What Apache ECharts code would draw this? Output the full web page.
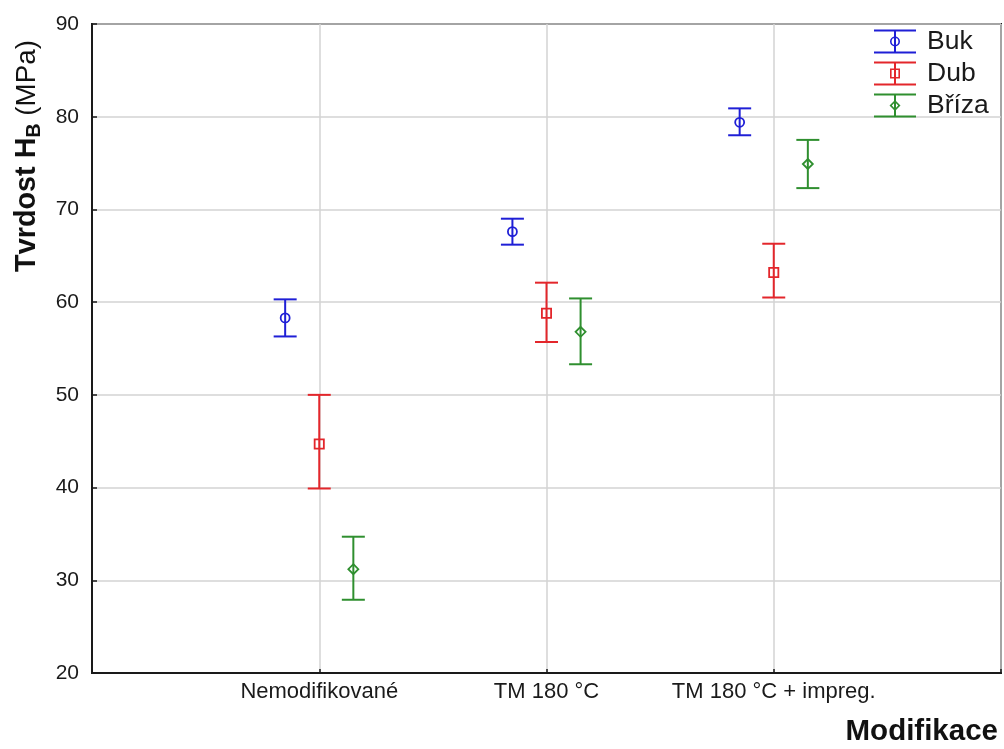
<!DOCTYPE html>
<html>
<head>
<meta charset="utf-8">
<script src="https://cdn.jsdelivr.net/npm/echarts@6/dist/echarts.min.js"></script>
<style>
  html, body { margin: 0; padding: 0; background: #fff; }
  #chart { width: 1004px; height: 749px; }
</style>
</head>
<body>
<div id="chart"></div>
<script>
// Hardness by modification: mean with lower / upper interval bounds
const categories = ['Nemodifikované', 'TM 180 °C', 'TM 180 °C + impreg.'];
const yTicks = [20, 30, 40, 50, 60, 70, 80, 90];

const bukMean  = [58.3, 67.6, 79.4];
const bukLow   = [56.3, 66.2, 78.0];
const bukHigh  = [60.3, 69.0, 80.9];

const dubMean  = [44.7, 58.8, 63.2];
const dubLow   = [39.9, 55.7, 60.5];
const dubHigh  = [50.0, 62.1, 66.3];

const brizaMean = [31.2, 56.8, 74.9];
const brizaLow  = [27.9, 53.3, 72.3];
const brizaHigh = [34.7, 60.4, 77.5];

const FONT = "'Liberation Sans', Arial, sans-serif";

const groups = [
  { name: 'Buk',   color: '#1f1fd6', marker: 'circle',  offset: -0.15, mean: bukMean,   low: bukLow,   high: bukHigh },
  { name: 'Dub',   color: '#e3262b', marker: 'square',  offset: 0,     mean: dubMean,   low: dubLow,   high: dubHigh },
  { name: 'Bříza', color: '#2f8f2f', marker: 'diamond', offset: 0.15,  mean: brizaMean, low: brizaLow, high: brizaHigh }
];

// legend icons: error bar with hollow marker (ring drawn as opposite-winding subpaths)
const barPath = 'M0 0 H42 V2 H0 Z M0 22 H42 V24 H0 Z M20 2 H22 V22 H20 Z ';
const markerPaths = {
  circle:  'M16 12 A5 5 0 1 1 26 12 A5 5 0 1 1 16 12 Z M17.6 12 A3.4 3.4 0 1 0 24.4 12 A3.4 3.4 0 1 0 17.6 12 Z',
  square:  'M16 7 H26 V17 H16 Z M17.6 8.6 V15.4 H24.4 V8.6 Z',
  diamond: 'M21 6.5 L26.5 12 L21 17.5 L15.5 12 Z M21 8.8 L17.8 12 L21 15.2 L24.2 12 Z'
};

function makeRenderItem(g) {
  return function (params, api) {
    const x = api.value(0) + g.offset;
    const pMean = api.coord([x, api.value(1)]);
    const pLow = api.coord([x, api.value(2)]);
    const pHigh = api.coord([x, api.value(3)]);
    const half = 11.5;
    const lineStyle = { stroke: g.color, lineWidth: 2, fill: null };
    const children = [
      { type: 'line', shape: { x1: pHigh[0], y1: pHigh[1], x2: pLow[0], y2: pLow[1] }, style: lineStyle },
      { type: 'line', shape: { x1: pHigh[0] - half, y1: pHigh[1], x2: pHigh[0] + half, y2: pHigh[1] }, style: lineStyle },
      { type: 'line', shape: { x1: pLow[0] - half, y1: pLow[1], x2: pLow[0] + half, y2: pLow[1] }, style: lineStyle }
    ];
    const mx = pMean[0], my = pMean[1];
    const mStyle = { stroke: g.color, lineWidth: 1.8, fill: null };
    if (g.marker === 'circle') {
      children.push({ type: 'circle', shape: { cx: mx, cy: my, r: 4.5 }, style: mStyle });
    } else if (g.marker === 'square') {
      children.push({ type: 'rect', shape: { x: mx - 4.6, y: my - 4.6, width: 9.2, height: 9.2 }, style: mStyle });
    } else {
      children.push({ type: 'polygon', shape: { points: [[mx, my - 5], [mx + 5, my], [mx, my + 5], [mx - 5, my]] }, style: mStyle });
    }
    return { type: 'group', children: children };
  };
}

const series = groups.map(g => ({
  name: g.name,
  type: 'custom',
  color: g.color,
  renderItem: makeRenderItem(g),
  encode: { x: 0, y: [1, 2, 3] },
  data: g.mean.map((m, i) => [i + 1, m, g.low[i], g.high[i]]),
  z: 5
}));

const chart = echarts.init(document.getElementById('chart'), null, { renderer: 'canvas' });

chart.setOption({
  animation: false,
  backgroundColor: '#fff',
  textStyle: { fontFamily: FONT },
  grid: {
    left: 92, right: 3, top: 24, bottom: 76,
    show: true, borderColor: '#1a1a1a', borderWidth: 2, backgroundColor: 'transparent'
  },
  legend: {
    orient: 'vertical',
    left: 874, top: 28, padding: 0,
    itemWidth: 42, itemHeight: 24, itemGap: 5,
    textStyle: { fontSize: 26.5, color: '#1a1a1a', fontFamily: FONT, padding: [0, 0, 0, 6] },
    data: groups.map(g => ({
      name: g.name,
      icon: 'path://' + barPath + markerPaths[g.marker],
      itemStyle: { color: g.color }
    }))
  },
  xAxis: {
    type: 'value',
    min: 0, max: 4, interval: 1,
    axisLine: { show: true, lineStyle: { color: '#1a1a1a', width: 2 } },
    axisTick: { show: true, inside: true, length: 4, lineStyle: { color: '#1a1a1a', width: 1.5 } },
    splitLine: { show: true, lineStyle: { color: '#d3d3d3', width: 1.5 } },
    axisLabel: {
      fontSize: 22, color: '#1a1a1a', fontFamily: FONT, margin: 8,
      formatter: v => categories[v - 1] || ''
    }
  },
  yAxis: {
    type: 'value',
    min: yTicks[0], max: yTicks[yTicks.length - 1], interval: 10,
    axisLine: { show: true, lineStyle: { color: '#1a1a1a', width: 2 } },
    axisTick: { show: true, inside: true, length: 5, lineStyle: { color: '#1a1a1a', width: 1.5 } },
    splitLine: { show: true, lineStyle: { color: '#d3d3d3', width: 1.5 } },
    axisLabel: { fontSize: 21, color: '#1a1a1a', fontFamily: FONT, margin: 13 }
  },
  graphic: [
    {
      type: 'text',
      x: 27, y: 156,
      rotation: Math.PI / 2,
      style: {
        text: '{b|Tvrdost H}{s|B}{n| (MPa)}',
        align: 'center', verticalAlign: 'middle',
        rich: {
          b: { fontSize: 28.8, fontWeight: 'bold', fontFamily: FONT, fill: '#111', lineHeight: 35 },
          s: { fontSize: 19.5, fontWeight: 'bold', fontFamily: FONT, fill: '#111', verticalAlign: 'bottom', lineHeight: 20 },
          n: { fontSize: 27.8, fontFamily: FONT, fill: '#111', lineHeight: 35 }
        }
      }
    },
    {
      type: 'text',
      right: 6, top: 717,
      style: { text: 'Modifikace', fontSize: 29.5, fontWeight: 'bold', fontFamily: FONT, fill: '#111' }
    }
  ],
  series: series
});
</script>
</body>
</html>
